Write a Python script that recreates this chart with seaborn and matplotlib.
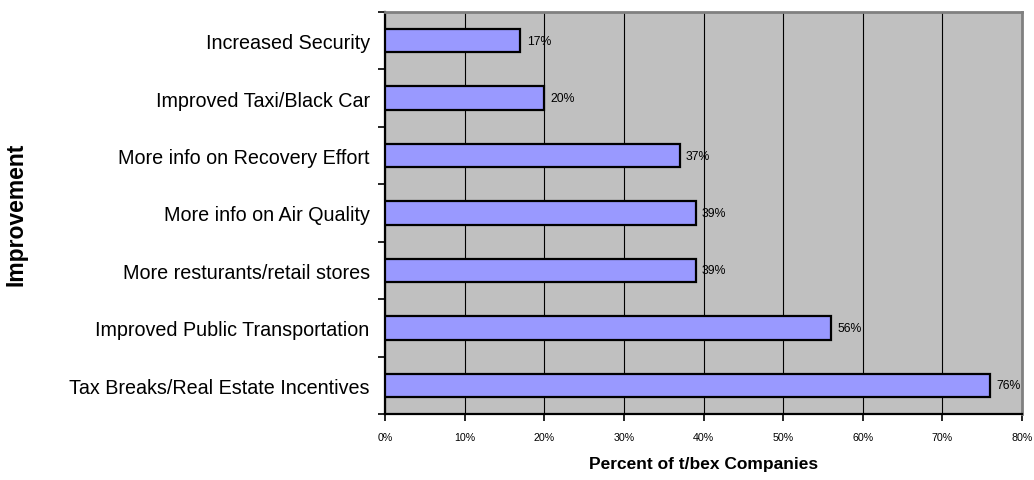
import matplotlib
matplotlib.use("Agg")
import matplotlib.pyplot as plt
import seaborn as sns
import pandas as pd
import numpy as np
from matplotlib.ticker import FixedLocator, PercentFormatter

categories = [
    "Increased Security",
    "Improved Taxi/Black Car",
    "More info on Recovery Effort",
    "More info on Air Quality",
    "More resturants/retail stores",
    "Improved Public Transportation",
    "Tax Breaks/Real Estate Incentives",
]
values = [17, 20, 37, 39, 39, 56, 76]
xticks = [0, 10, 20, 30, 40, 50, 60, 70, 80]

sns.set_theme(style="white")
plt.rcParams["font.family"] = ["Liberation Sans", "DejaVu Sans"]
plt.rcParams["text.color"] = "black"
plt.rcParams["axes.labelcolor"] = "black"
plt.rcParams["xtick.color"] = "black"
plt.rcParams["ytick.color"] = "black"

df = pd.DataFrame({"Improvement": categories, "Percent": values})

fig = plt.figure(figsize=(10.34, 4.81), dpi=100)
ax = fig.add_axes([385 / 1034, 1 - 415 / 481, (1022 - 385) / 1034, (415 - 13) / 481])
ax.set_facecolor("#C0C0C0")

sns.barplot(data=df, x="Percent", y="Improvement", order=categories, orient="h",
            color="#9999FF", edgecolor="black", linewidth=1.6, width=0.41,
            saturation=1, ax=ax, zorder=3)

ax.set_xlim(0, 80)
ax.set_ylim(len(categories) - 0.5, -0.5)
ax.set_xticks(xticks)
ax.xaxis.set_major_formatter(PercentFormatter(decimals=0))
ax.grid(axis="x", color="black", linewidth=0.8, zorder=0)
ax.set_axisbelow(True)

ax.yaxis.set_minor_locator(FixedLocator(np.arange(-0.5, len(categories), 1.0)))
ax.tick_params(axis="y", which="major", length=0, pad=11, labelsize=14.2, labelcolor="black")
ax.tick_params(axis="y", which="minor", length=5, width=1.2, color="black", direction="out", left=True)
ax.tick_params(axis="x", which="major", length=5, width=1.2, color="black", direction="out",
               bottom=True, labelsize=7.7, pad=8, labelcolor="black")

for s in ["left", "bottom"]:
    ax.spines[s].set_color("black")
    ax.spines[s].set_linewidth(1.6)
for s in ["top", "right"]:
    ax.spines[s].set_color("#808080")
    ax.spines[s].set_linewidth(2)

for i, v in enumerate(values):
    ax.text(v + 0.8, i, f"{v}%", va="center", ha="left", fontsize=8.8, color="black", zorder=4)

ax.set_xlabel("Percent of t/bex Companies", fontsize=12.5, fontweight="bold", labelpad=10)
ax.set_ylabel("Improvement", fontsize=16.5, fontweight="bold")
ax.yaxis.set_label_coords(-0.561, 0.5)

fig.savefig("out.png", dpi=100)
